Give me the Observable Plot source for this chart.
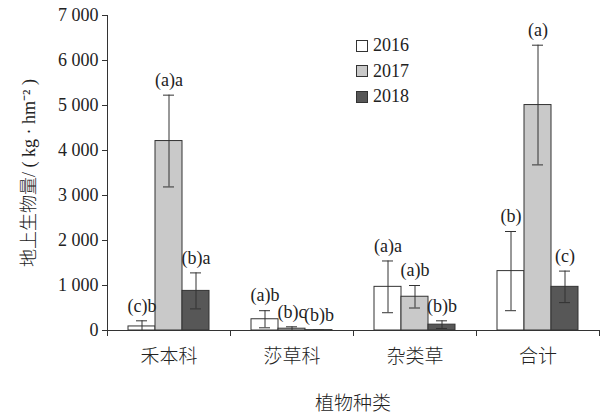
<!DOCTYPE html>
<html>
<head>
<meta charset="utf-8">
<script src="https://cdn.jsdelivr.net/npm/d3@7"></script>
<script src="https://cdn.jsdelivr.net/npm/@observablehq/plot@0.6"></script>
<style>
  html, body { margin: 0; padding: 0; background: #fff; }
  #wrap { position: relative; width: 610px; height: 418px; font-family: 'Liberation Serif', 'Noto Sans CJK SC', serif; color: #222; }
  #wrap svg text { font-family: 'Liberation Serif', 'Noto Sans CJK SC', serif; }
  #wrap svg g[aria-label="fx-axis tick label"] text { font-family: 'Noto Sans CJK SC', sans-serif; font-weight: 300; }
  #wrap svg g[aria-label="y-axis label"] text { font-weight: 300; }
  #legend { position: absolute; left: 356px; top: 33px; font-size: 18px; }
  #legend .row { display: flex; align-items: center; height: 25.5px; }
  #legend .sw { width: 10px; height: 10px; border: 1px solid #333; margin-right: 5px; }
  #xtitle { position: absolute; left: 107px; width: 492px; top: 385px; height: 33px; line-height: 33px; text-align: center; font-family: 'Noto Sans CJK SC', sans-serif; font-weight: 300; font-size: 19px; color: #222; }
</style>
</head>
<body>
<div id="wrap"></div>
<script>
// Plant groups, survey years and bar fills
const categories = ["禾本科", "莎草科", "杂类草", "合计"];
const years = ["2016", "2017", "2018"];
const fills = ["#ffffff", "#c9c9c9", "#575757"];

// Mean aboveground biomass (kg·hm⁻²) per group, one array per year
const mean2016 = [90, 250, 970, 1320];
const mean2017 = [4210, 40, 750, 5010];
const mean2018 = [880, 8, 130, 970];

// Error bar half-lengths
const err2016 = [125, 190, 575, 880];
const err2017 = [1020, 42, 250, 1330];
const err2018 = [400, 0, 85, 350];

// Significance letters above each bar
const sig2016 = ["(c)b", "(a)b", "(a)a", "(b)"];
const sig2017 = ["(a)a", "(b)c", "(a)b", "(a)"];
const sig2018 = ["(b)a", "(b)b", "(b)b", "(c)"];

const yTicks = [0, 1000, 2000, 3000, 4000, 5000, 6000, 7000];

const means = [mean2016, mean2017, mean2018];
const errs = [err2016, err2017, err2018];
const sigs = [sig2016, sig2017, sig2018];

const rows = [];
categories.forEach((c, i) => {
  years.forEach((yr, j) => {
    const v = means[j][i], e = errs[j][i];
    rows.push({category: c, year: yr, value: v, lo: Math.max(0, v - e), hi: v + e, sig: sigs[j][i]});
  });
});

const fmt = d => d === 0 ? "0" : d3.format(",")(d).replace(/,/g, " ");

const chart = Plot.plot({
  width: 610,
  height: 385,
  marginLeft: 107,
  marginRight: 11,
  marginTop: 15,
  marginBottom: 55,
  style: {fontSize: "18px", color: "#222", background: "#fff"},
  fx: {domain: categories, padding: 0},
  x: {domain: years, paddingInner: 0, paddingOuter: 0.7, axis: null},
  y: {domain: [0, 7000]},
  color: {domain: years, range: fills},
  marks: [
    Plot.axisY({
      ticks: yTicks, tickSize: 5, tickPadding: 4, tickFormat: fmt, stroke: "#333",
      label: "地上生物量/ ( kg · hm⁻² )", labelAnchor: "center", labelArrow: "none", labelOffset: 85,
      fontSize: 18
    }),
    Plot.axisFx({anchor: "bottom", tickSize: 0, tickPadding: 19, label: null, fontSize: 19}),
    Plot.barY(rows, {fx: "category", x: "year", y: "value", fill: "year", stroke: "#333", strokeWidth: 1}),
    Plot.ruleX(rows, {fx: "category", x: "year", y1: "lo", y2: "hi", stroke: "#333", strokeWidth: 1}),
    Plot.tickY(rows, {fx: "category", x: "year", y: "hi", stroke: "#333", strokeWidth: 1, insetLeft: 8, insetRight: 8}),
    Plot.tickY(rows.filter(d => d.lo > 0), {fx: "category", x: "year", y: "lo", stroke: "#333", strokeWidth: 1, insetLeft: 8, insetRight: 8}),
    Plot.text(rows, {fx: "category", x: "year", y: "hi", text: "sig", dy: -15, fontSize: 18, fill: "#222"})
  ]
});

// Axis lines: left spine, baseline and tick marks at the group boundaries
const svg = chart.tagName.toLowerCase() === "svg" ? chart : chart.querySelector("svg");
const fxS = chart.scale("fx");
const yS = chart.scale("y");
const y0 = yS.apply(0);
const yTop = yS.apply(7000);
const edges = categories.map(c => fxS.apply(c));
edges.push(fxS.apply(categories[categories.length - 1]) + fxS.bandwidth);
const g = d3.select(svg).append("g").attr("stroke", "#333").attr("stroke-width", 1).attr("fill", "none");
g.append("line").attr("x1", edges[0] + 0.5).attr("x2", edges[0] + 0.5).attr("y1", yTop).attr("y2", y0);
g.append("line").attr("x1", edges[0]).attr("x2", edges[edges.length - 1]).attr("y1", y0 + 0.5).attr("y2", y0 + 0.5);
edges.forEach(x => g.append("line").attr("x1", x + 0.5).attr("x2", x + 0.5).attr("y1", y0).attr("y2", y0 + 6));

const wrap = document.getElementById("wrap");
wrap.appendChild(chart);

// Legend
const legend = document.createElement("div");
legend.id = "legend";
years.forEach((yr, j) => {
  const row = document.createElement("div");
  row.className = "row";
  const sw = document.createElement("span");
  sw.className = "sw";
  sw.style.background = fills[j];
  const t = document.createElement("span");
  t.textContent = yr;
  row.appendChild(sw);
  row.appendChild(t);
  legend.appendChild(row);
});
wrap.appendChild(legend);

// Category axis title
const xt = document.createElement("div");
xt.id = "xtitle";
xt.textContent = "植物种类";
wrap.appendChild(xt);
</script>
</body>
</html>
